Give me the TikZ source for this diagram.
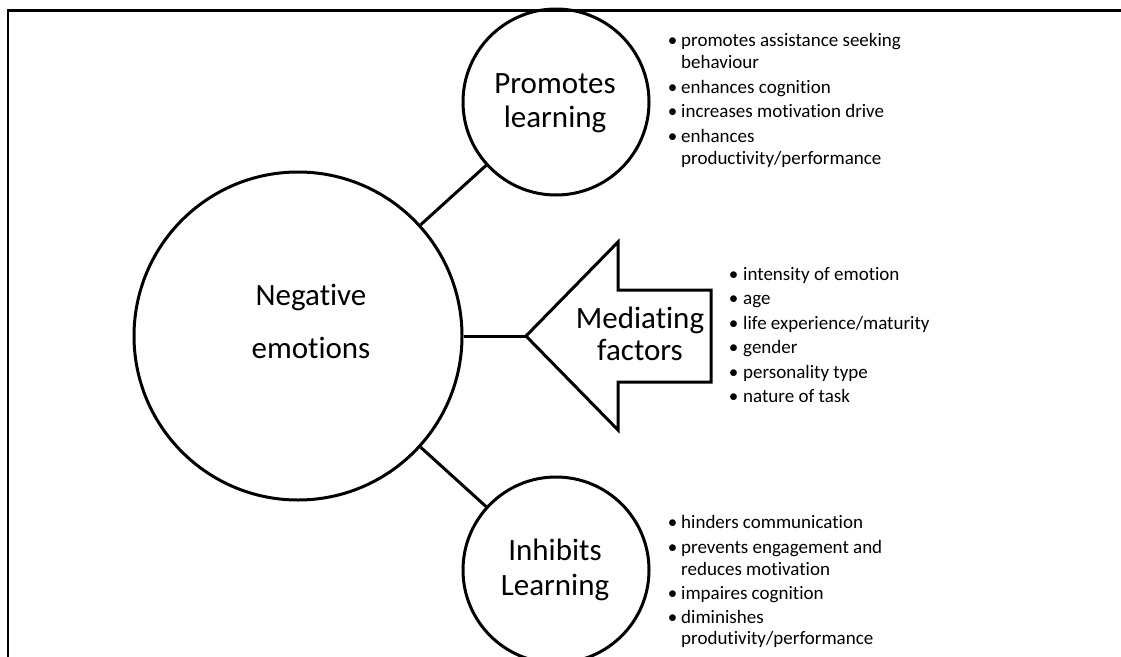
\documentclass[tikz,border=0pt]{standalone}
\usepackage{fontspec}
\setmainfont{Carlito}[Ligatures=NoCommon]
\begin{document}
\begin{tikzpicture}[x=1pt,y=-1pt,
  stroke/.style={line width=3pt, draw=black},
  bubble/.style={circle, stroke, inner sep=0pt, minimum size=#1},
  biglabel/.style={font=\fontsize{31}{37}\selectfont, inner sep=0pt, anchor=base},
  listtext/.style={font=\fontsize{19}{23}\selectfont, inner sep=0pt, anchor=base west},
  bulletmark/.style={font=\fontsize{19}{23}\selectfont, inner sep=0pt, anchor=base},
  link/.style={line width=3pt}
]
\useasboundingbox (0,0) rectangle (1121,656);

% open frame along the top and left edges
\draw[line width=2.3pt] (8,690) -- (8,10.5) -- (1150,10.5);

% circles
\node[bubble=328] (neg) at (298,336) {};
\node[bubble=186] (prom) at (556,102) {};
\node[bubble=186] (inh) at (556,570) {};

% left-pointing block arrow
\draw[stroke, line join=miter] (526,336) -- (618,242) -- (618,290) -- (711,290)
  -- (711,382) -- (618,382) -- (618,430) -- cycle;
\coordinate (tip) at (526,336);

% connectors
\draw[link] (neg) -- (prom);
\draw[link] (neg) -- (inh);
\draw[link] (neg) -- (tip);

% labels
\node[biglabel] (neg1) at (311,305) {Negative};
\node[biglabel] (neg2) at (311,358) {emotions};
\node[biglabel] (prom1) at (555,93) {Promotes};
\node[biglabel] (prom2) at (555,127) {learning};
\node[biglabel] (inh1) at (555,560) {Inhibits};
\node[biglabel] (inh2) at (555,595) {Learning};
\node[biglabel] (med1) at (640,328) {Mediating};
\node[biglabel] (med2) at (640,360) {factors};

% effects of promoting learning
\foreach \y/\t [count=\i] in {46.5/{promotes assistance seeking}, 68.5/{behaviour},
    93/{enhances cognition}, 117.5/{increases motivation drive}, 142/{enhances},
    164/{productivity/performance}}
  \node[listtext] (pro-\i) at (681,\y) {\t};
\foreach \y [count=\i] in {46.5,93,117.5,142}
  \node[bulletmark] (pro-b\i) at (672.5,\y) {\textbullet};

% mediating factors
\foreach \y/\t [count=\i] in {280/{intensity of emotion}, 304.5/{age},
    329/{life experience/maturity}, 353.5/{gender}, 378/{personality type},
    402.5/{nature of task}}
  {\node[listtext] (med-\i) at (743,\y) {\t};
   \node[bulletmark] (med-b\i) at (733.5,\y) {\textbullet};}

% effects of inhibiting learning
\foreach \y/\t [count=\i] in {528/{hinders communication}, 553/{prevents engagement and},
    575/{reduces motivation}, 599/{impaires cognition}, 623/{diminishes},
    644/{produtivity/performance}}
  \node[listtext] (inh-\i) at (681,\y) {\t};
\foreach \y [count=\i] in {528,553,599,623}
  \node[bulletmark] (inh-b\i) at (672.5,\y) {\textbullet};
\end{tikzpicture}
\end{document}
